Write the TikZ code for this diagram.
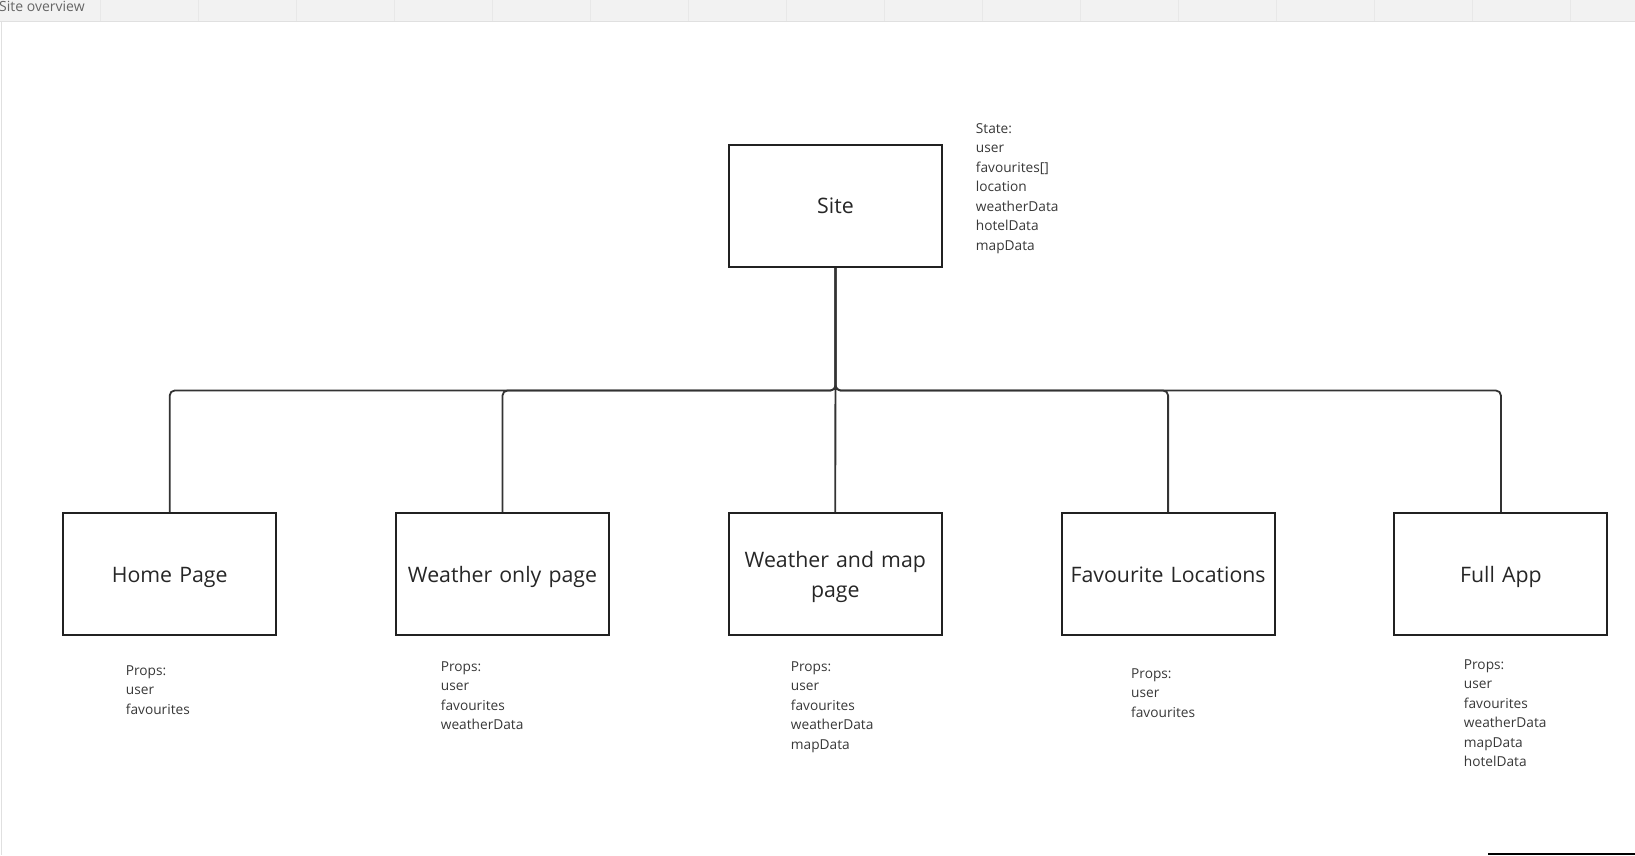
\documentclass[tikz,border=0pt]{standalone}
\usepackage{fontspec}
\setmainfont{Open Sans}

\begin{document}
\begin{tikzpicture}[x=1pt, y=-1pt]

\tikzset{
    box/.style={draw=black!87, line width=2pt, minimum width=213pt, minimum height=122pt, inner sep=0pt, align=center, text width=205pt, text=black!85, font=\fontsize{21.3}{30}\selectfont},
    note/.style={anchor=north west, inner sep=0pt, align=left, text=black!78, font=\fontsize{13.7}{19.5}\selectfont},
    link/.style={draw=black!80, line width=1.8pt, rounded corners=5pt},
    sep/.style={draw=black!9, line width=1pt}
}

\useasboundingbox (0,0) rectangle (1635,855);

% top bar
\fill[black!5] (0,0) rectangle (1635,21);
\foreach \i in {0,...,15} {
    \draw[sep] ({100.2+98*\i},0) -- ({100.2+98*\i},21);
}
\draw[black!12] (0,21) -- (1635,21);
\draw[black!12] (1,21) -- (1,855);
\node[anchor=base west, inner sep=0pt, text=black!60, font=\fontsize{14}{14}\selectfont] (title) at (-1,11) {Site overview};

\node[box] (site) at (835.5,206) {Site};

\foreach \txt/\th/\td [count=\i] in {Home Page/17.4/0, Weather only page/17.4/0, {Weather and map\\page}/15/29, Favourite Locations/17.4/0, Full App/17.4/0} {
    \node[box, text height=\th pt, text depth=\td pt] (p\i) at ({169.7+332.8*(\i-1)},574) {\txt};
}

\coordinate (bus) at (835.5,390.5);

\foreach \i in {1,2,4,5} {
    \draw[link] (site.south) |- (bus -| p\i.north) -- (p\i.north);
}
\draw[link] (site.south) -- (p3.north);

\node[note] (state) at (975.7,123) {State:\\user\\favourites[]\\location\\weatherData\\hotelData\\mapData};

\node[note] (n1) at (125.7,665.5) {Props:\\user\\favourites};
\node[note] (n2) at (440.7,661.5) {Props:\\user\\favourites\\weatherData};
\node[note] (n3) at (790.7,661.5) {Props:\\user\\favourites\\weatherData\\mapData};
\node[note] (n4) at (1131,668.5) {Props:\\user\\favourites};
\node[note] (n5) at (1463.7,659.5) {Props:\\user\\favourites\\weatherData\\mapData\\hotelData};

\draw[black, line width=1.5pt] (1488,854) -- (1635,854);

\end{tikzpicture}
\end{document}
